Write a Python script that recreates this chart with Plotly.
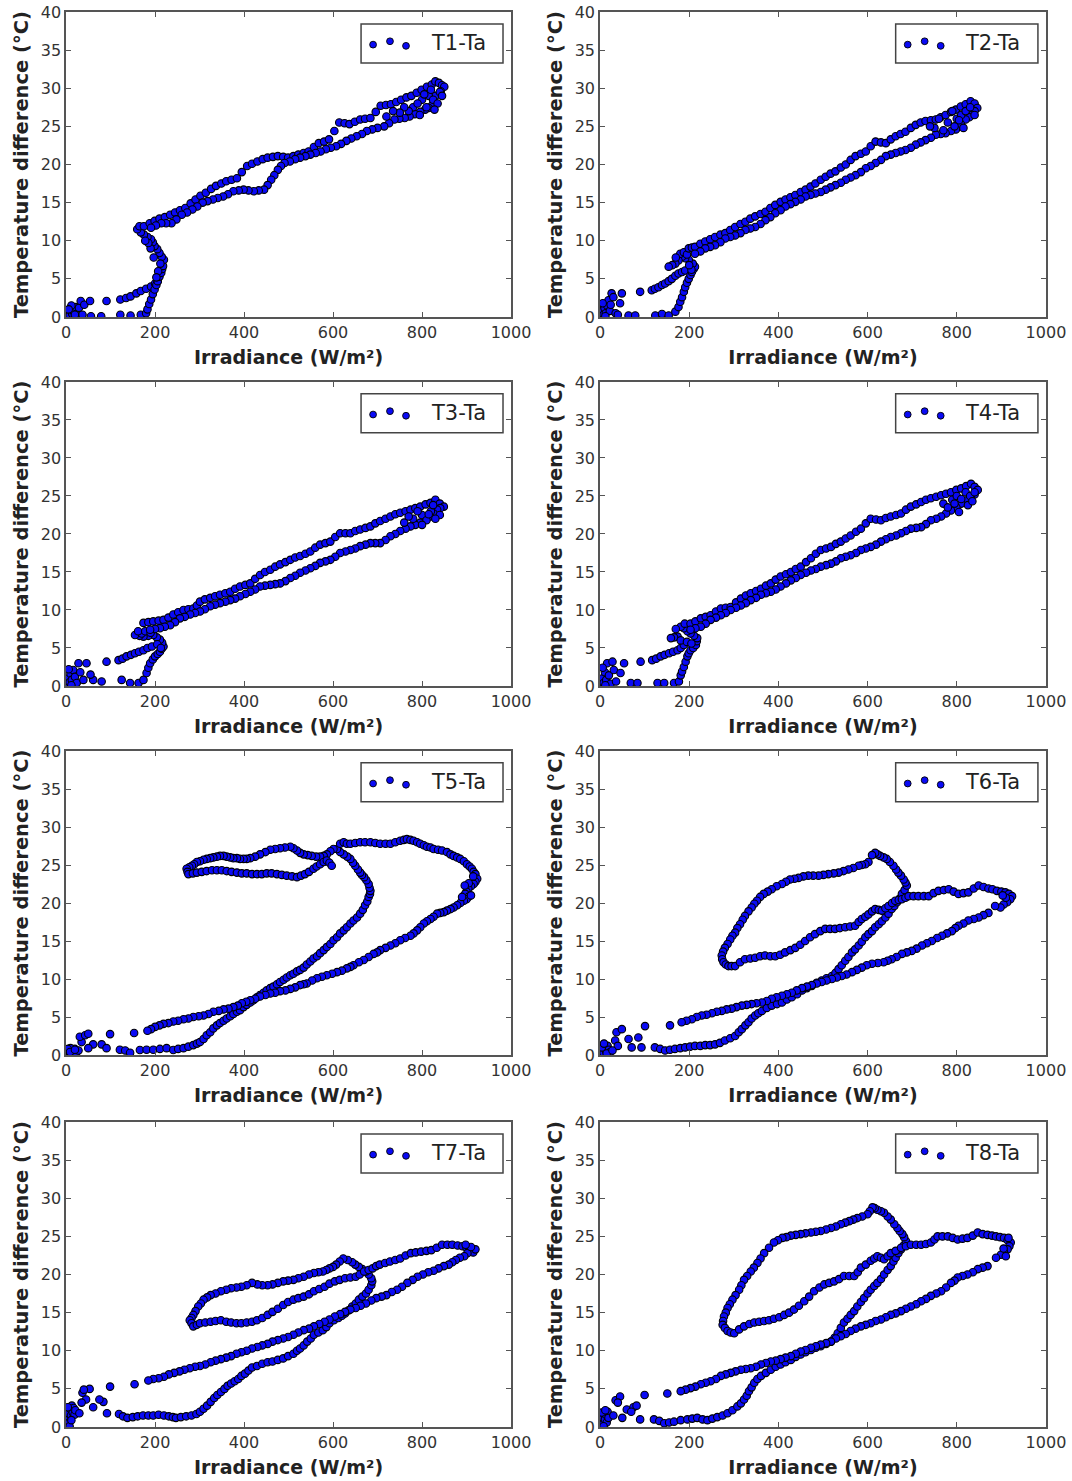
import plotly.graph_objects as go
from plotly.subplots import make_subplots

# ---------------- data (irradiance W/m2, temperature difference degC) ----------------
t1 = [
(2,0.1),(5,0.5),(8,0.2),(10,0.9),(14,0.4),(18,0.7),(22,1.3),(25,0.1),(29,1.2),(33,2.1),(37,0.3),(41,1.6),(12,1.5),(6,1.0),(20,0.3),
(56,0.1),(79,0.1),(54,2.1),(91,2.1),(122,0.3),(145,0.2),(168,0.3),(180,0.5),
(122,2.3),(135,2.5),(145,2.7),(158,3.1),(168,3.4),(180,3.7),(191,4.0),(200,4.4),(206,4.7),
(183,1.0),(187,1.7),(191,2.3),(195,3.0),(199,3.6),(203,4.2),(206,4.7),(210,5.3),(214,5.8),(216,6.3),(218,6.7),(220,7.5),(215,7.9),(210,8.4),(205,8.9),(199,9.3),(195,9.8),(191,10.2),(183,10.5),(175,10.8),(168,11.1),(160,11.5),(165,11.9),
(207,6.0),(212,7.0),(203,5.2),(197,7.8),(190,9.0),(185,9.7),(178,10.0),
(175,11.9),(188,12.3),(199,12.6),(210,12.9),(222,13.1),(234,13.4),(245,13.7),(256,14.0),(268,14.3),(280,14.9),(291,15.4),(302,15.9),(314,16.3),(326,16.8),(337,17.2),(349,17.5),(360,17.8),(372,18.0),(384,18.2),(395,19.0),(407,19.8),(418,20.1),(430,20.4),(442,20.7),(453,20.9),(465,21.0),(476,21.1),(488,21.0),(499,20.9),(511,21.1),(522,21.3),(534,21.5),(545,21.7),(557,22.3),(568,22.8),(580,23.0),(591,23.3),(603,24.4),(614,25.5),(626,25.4),(637,25.3),(649,25.6),(661,25.9),(672,26.0),(684,26.1),(696,26.9),(707,27.7),(719,27.8),(730,27.9),(742,28.2),(753,28.5),(765,28.8),(776,29.0),(788,29.4),(799,29.8),(811,30.2),(822,30.5),(830,30.9),(838,30.7),(845,30.4),(850,30.2),
(842,29.6),(830,29.0),(826,28.3),(822,27.7),(815,27.4),(807,27.2),(796,26.9),(784,26.6),(772,26.3),(761,26.1),(749,26.0),(738,25.9),(726,25.4),(715,25.0),(700,24.8),(688,24.6),(676,24.4),(665,24.0),(653,23.7),(641,23.4),(630,23.1),(618,22.7),(607,22.4),(595,22.2),(584,22.0),(572,21.7),(561,21.5),(549,21.3),(538,21.1),(526,20.9),(515,20.7),(503,20.4),(491,20.2),(483,19.8),(476,19.3),(468,18.6),(461,18.0),(453,17.3),(445,16.7),(433,16.6),(422,16.5),(410,16.6),(399,16.7),(388,16.6),(376,16.5),(364,16.1),(353,15.8),(341,15.6),(330,15.4),(318,15.2),(307,15.0),(295,14.5),(284,14.1),(272,13.7),(260,13.4),(248,12.8),(237,12.3),(225,12.3),(214,12.3),(202,12.0),(191,11.7),
(780,27.5),(800,28.5),(815,29.0),(790,28.0),(770,27.0),(825,28.5),(840,29.5),(810,27.5),(820,29.8),(760,27.5),(835,28.0),(805,29.2),(795,26.5),(828,27.2),(845,29.0),(750,26.8),(720,26.3),(735,27.0),
]

t2 = [
(2,0.2),(5,0.8),(8,0.3),(10,1.2),(13,0.5),(16,1.5),(19,2.2),(22,0.8),(26,3.1),(30,2.6),(6,1.8),(12,0.1),(24,1.6),(35,0.5),
(45,1.8),(49,3.1),(64,0.2),(79,0.2),(90,3.3),(124,0.2),(139,0.4),(154,0.2),(169,0.7),(40,0.3),
(116,3.5),(123,3.7),(131,3.9),(139,4.2),(146,4.4),(154,4.7),(161,5.0),(169,5.4),(176,5.7),(184,5.9),(191,6.1),
(176,1.3),(180,2.0),(184,2.6),(188,3.3),(191,3.9),(195,4.5),(199,5.0),(203,5.5),(206,5.9),(210,6.3),(213,6.6),(208,7.0),(199,7.5),(191,7.7),(184,7.9),(176,7.4),(169,7.0),(162,6.8),(154,6.6),(180,8.3),(188,8.5),(170,7.8),(195,8.2),(205,6.2),(200,6.8),
(199,9.0),(206,9.1),(213,9.2),(225,9.6),(236,9.9),(247,10.2),(258,10.5),(270,10.8),(281,11.0),(292,11.4),(303,11.8),(315,12.2),(326,12.5),(337,12.9),(348,13.2),(360,13.5),(371,13.8),(382,14.3),(393,14.7),(405,15.1),(416,15.4),(427,15.7),(438,16.0),(450,16.4),(461,16.7),(472,17.1),(483,17.5),(495,18.0),(506,18.4),(517,18.8),(528,19.1),(540,19.6),(551,20.0),(562,20.6),(573,21.1),(585,21.4),(596,21.7),(607,22.4),(618,23.0),(630,22.9),(641,22.8),(652,23.3),(663,23.7),(674,24.0),(685,24.3),(697,24.8),(708,25.2),(719,25.5),(730,25.7),(742,25.8),(753,25.9),(764,26.2),(775,26.5),(787,26.9),(798,27.2),(809,27.6),(820,27.9),(831,28.3),(840,28.0),(846,27.4),
(840,27.0),(835,26.5),(828,26.2),(820,25.9),(809,25.3),(798,24.6),(787,24.4),(775,24.1),(764,24.0),(753,23.9),(742,23.5),(730,23.2),(719,22.9),(708,22.6),(697,22.2),(685,21.9),(674,21.7),(663,21.5),(652,21.3),(641,21.1),(630,20.6),(618,20.2),(607,19.8),(596,19.5),(585,19.0),(573,18.6),(562,18.3),(551,18.0),(540,17.6),(528,17.3),(517,17.0),(506,16.7),(495,16.4),(483,16.2),(472,16.0),(461,15.8),(450,15.4),(438,15.1),(427,14.8),(416,14.5),(405,14.0),(393,13.6),(382,13.1),(371,12.7),(360,12.2),(348,11.8),(337,11.6),(326,11.4),(315,11.0),(303,10.7),(292,10.5),(281,10.3),(270,9.8),(258,9.4),(247,9.2),(236,9.0),(225,8.6),(213,8.3),
(760,26.0),(780,25.5),(800,26.0),(790,27.0),(810,26.5),(770,24.5),(820,27.0),(840,26.5),(815,24.8),(830,27.5),(805,25.8),(795,25.0),(750,24.8),(740,25.0),
]

t3 = [
(2,0.3),(5,1.0),(8,0.5),(10,1.6),(13,0.8),(16,2.1),(20,1.2),(24,0.4),(28,3.0),(6,2.2),(12,0.1),(32,1.8),
(39,0.8),(46,3.0),(61,0.8),(80,0.6),(91,3.2),(125,0.8),(144,0.4),(163,0.4),(174,0.8),(55,1.5),
(118,3.4),(127,3.6),(136,3.9),(146,4.1),(155,4.3),(164,4.5),(174,4.7),(183,5.0),(193,5.2),
(181,1.7),(185,2.4),(189,3.0),(195,3.5),(200,3.9),(206,4.2),(211,4.5),(215,4.9),(219,5.2),(216,5.7),(211,6.1),(204,6.4),(196,6.7),(185,6.6),(174,6.5),(165,6.6),(155,6.7),(170,6.9),(162,7.2),(178,7.2),(190,7.0),(205,5.5),(213,5.0),
(174,8.3),(185,8.4),(196,8.5),(208,8.6),(219,8.7),(230,9.0),(241,9.4),(252,9.7),(264,10.0),(275,10.1),(286,10.2),(294,10.6),(301,11.1),(312,11.4),(324,11.6),(335,11.8),(346,12.0),(358,12.2),(369,12.4),(380,12.8),(391,13.1),(403,13.3),(414,13.5),(425,14.1),(436,14.6),(447,15.0),(459,15.3),(470,15.7),(481,16.0),(493,16.3),(504,16.6),(515,16.9),(526,17.1),(538,17.4),(549,17.7),(560,18.2),(571,18.6),(583,18.8),(594,19.0),(605,19.6),(616,20.1),(628,20.1),(639,20.1),(650,20.4),(661,20.6),(673,20.8),(684,21.0),(695,21.4),(706,21.7),(718,22.0),(729,22.3),(740,22.6),(751,22.8),(763,23.0),(774,23.2),(785,23.4),(796,23.6),(808,23.9),(819,24.1),(830,24.5),(840,24.0),(849,23.6),
(841,23.4),(834,23.2),(826,22.7),(819,22.3),(808,21.9),(796,21.5),(785,21.2),(774,21.0),(763,20.7),(751,20.4),(740,20.0),(729,19.7),(718,19.2),(706,18.8),(695,18.8),(684,18.8),(673,18.6),(661,18.4),(650,18.1),(639,17.9),(628,17.7),(616,17.5),(605,17.0),(594,16.6),(583,16.4),(571,16.2),(560,15.8),(549,15.5),(538,15.2),(526,14.9),(515,14.5),(504,14.2),(493,13.8),(481,13.5),(470,13.4),(459,13.3),(447,13.2),(436,13.1),(425,12.7),(414,12.4),(403,12.1),(391,11.8),(380,11.5),(369,11.3),(358,11.1),(346,10.9),(335,10.7),(324,10.5),(312,10.1),(301,9.8),(290,9.6),(279,9.4),(267,9.1),(256,8.9),(245,8.4),(234,8.0),(222,7.8),(211,7.6),(200,7.5),(189,7.4),
(780,22.0),(800,22.5),(810,21.8),(790,23.0),(820,23.0),(840,22.5),(760,21.5),(830,22.0),(815,22.6),(800,21.2),(770,22.3),(825,23.8),
]

t4 = [
(2,0.3),(5,1.0),(8,0.4),(11,1.8),(14,0.8),(16,3.0),(20,1.4),(24,0.3),(28,3.2),(31,2.1),(6,2.4),(12,0.1),(36,0.6),
(46,1.7),(54,3.0),(69,0.4),(84,0.4),(91,3.2),(129,0.4),(144,0.4),(166,0.4),(177,0.6),
(117,3.4),(126,3.6),(136,3.9),(145,4.1),(155,4.3),(164,4.5),(174,4.7),(181,5.0),(188,5.4),
(181,1.4),(184,1.9),(188,2.5),(192,3.2),(196,3.9),(199,4.3),(203,4.7),(209,5.0),(215,5.4),(217,5.9),(218,6.3),(211,6.6),(203,6.9),(196,7.2),(188,7.6),(181,7.8),(174,6.5),(166,6.4),(159,6.3),(181,6.0),(195,5.8),(205,5.6),(190,8.2),(170,7.5),
(203,8.2),(214,8.5),(226,8.9),(237,9.1),(248,9.3),(260,9.8),(271,10.2),(282,10.3),(293,10.4),(305,11.0),(316,11.5),(327,11.9),(338,12.2),(350,12.5),(361,12.8),(372,13.2),(383,13.5),(394,14.0),(405,14.4),(417,14.7),(428,15.0),(439,15.4),(450,15.7),(462,16.3),(473,16.8),(484,17.4),(495,17.9),(507,18.1),(518,18.3),(529,18.7),(540,19.0),(551,19.4),(562,19.8),(574,20.3),(585,20.7),(596,21.4),(607,22.0),(619,21.9),(630,21.8),(641,22.1),(652,22.3),(664,22.5),(675,22.7),(686,23.2),(697,23.6),(709,23.9),(720,24.2),(731,24.5),(742,24.7),(754,24.9),(765,25.1),(776,25.3),(787,25.5),(799,25.8),(810,26.0),(821,26.3),(832,26.6),(840,26.2),(847,25.8),
(840,25.2),(832,24.7),(821,24.4),(810,24.0),(799,23.5),(787,23.1),(776,22.7),(765,22.3),(754,22.0),(742,21.8),(731,21.3),(720,20.9),(709,20.8),(697,20.7),(686,20.4),(675,20.1),(664,19.8),(652,19.6),(641,19.3),(630,19.0),(619,18.6),(607,18.3),(596,18.1),(585,17.9),(574,17.5),(562,17.2),(551,17.0),(540,16.8),(529,16.4),(518,16.1),(507,15.9),(495,15.7),(484,15.4),(473,15.2),(462,14.9),(450,14.6),(439,14.2),(428,13.9),(417,13.5),(405,13.1),(394,12.7),(383,12.4),(372,12.2),(361,12.0),(350,11.6),(338,11.3),(327,10.9),(316,10.6),(305,10.3),(293,10.0),(282,9.6),(271,9.3),(260,9.0),(248,8.7),(237,8.2),(226,7.8),(214,7.6),(203,7.4),
(770,24.0),(790,24.5),(800,25.0),(810,24.6),(820,25.5),(780,23.5),(830,25.0),(840,25.5),(825,23.8),(805,22.9),(795,24.0),(835,24.3),
]

t5 = [
(2,0.2),(5,0.5),(8,0.3),(12,0.6),(15,0.4),(20,0.8),(25,0.5),(10,0.9),(18,0.2),(4,0.8),(22,0.3),(28,0.6),
(9,0.4),(20,0.7),(35,1.7),(31,2.4),(43,2.6),(50,2.8),(61,1.4),(80,1.4),(91,0.9),(50,0.9),(99,2.75),(121,0.7),(133,0.6),(144,0.3),(153,2.9),
(166,0.65),(181,0.7),(196,0.7),(211,0.8),(226,0.9),(241,0.65),(252,0.8),(264,0.9),(275,1.1),(286,1.3),(294,1.5),(301,1.7),(309,2.1),(316,2.6),(324,3.0),(331,3.5),(339,3.9),(346,4.2),(354,4.5),(361,4.8),(369,5.1),(376,5.4),(384,5.7),(391,5.9),(399,6.3),(406,6.6),(414,6.9),(421,7.2),(429,7.6),(436,7.9),(444,8.2),(451,8.5),(459,8.8),(466,9.0),(474,9.3),(481,9.6),(489,9.9),(496,10.2),(504,10.5),(511,10.7),(519,11.0),(526,11.2),(534,11.5),(541,11.9),(549,12.3),(556,12.7),(564,13.0),(571,13.4),(579,13.8),(586,14.2),(594,14.6),(601,15.1),(609,15.5),(616,16.0),(624,16.4),(631,16.8),(639,17.3),(646,17.7),(654,18.1),(661,18.6),(667,19.1),(672,19.7),(677,20.2),(680,20.8),(683,21.2),(684,21.6),(682,22.0),(680,22.5),(675,23.0),(670,23.4),(665,23.7),(661,24.0),(656,24.4),(650,24.9),(645,25.3),(639,25.8),(632,26.1),(624,26.4),(616,26.7),(609,27.1),
(601,27.1),(594,26.8),(586,26.4),(579,26.2),(571,26.1),(562,26.1),(552,26.2),(543,26.3),(534,26.4),(526,26.6),(519,26.9),(511,27.2),(504,27.4),(492,27.3),(481,27.2),(470,27.1),(459,27.0),(448,26.7),(436,26.4),(425,26.1),(414,25.9),(406,25.8),(399,25.8),(391,25.8),(384,25.9),(376,25.9),(369,26.0),(361,26.1),(354,26.2),(346,26.2),(339,26.1),(331,26.0),(324,25.9),(316,25.8),(309,25.7),(301,25.5),(294,25.4),(288,25.1),(283,24.9),(277,24.7),(271,24.5),(273,24.1),
(275,23.8),(285,23.9),(294,24.0),(305,24.1),(316,24.2),(328,24.3),(339,24.3),(350,24.3),(361,24.2),(372,24.1),(384,24.0),(395,23.9),(406,23.9),(418,23.8),(429,23.8),(440,23.8),(451,23.9),(462,23.9),(474,23.8),(485,23.7),(496,23.6),(508,23.5),(519,23.4),(528,23.6),(537,23.8),(546,24.1),(556,24.5),(563,24.8),(571,25.1),(579,25.4),(586,25.6),(592,25.3),(597,24.9),
(616,27.8),(624,28.0),(631,27.8),(639,27.8),(650,27.9),(661,28.0),(672,28.0),(684,28.0),(695,27.9),(706,27.8),(718,27.8),(729,27.8),(740,28.0),(751,28.2),(759,28.3),(766,28.4),(774,28.3),(781,28.2),(789,28.0),(796,27.8),(804,27.6),(811,27.4),(819,27.3),(826,27.1),(836,27.0),(845,26.9),(856,26.7),(864,26.4),(871,26.2),(879,26.0),(886,25.8),(894,25.5),(901,25.1),(907,24.8),(912,24.5),(916,24.1),(920,23.8),(924,23.2),(920,22.8),(916,22.5),(910,22.2),(904,21.9),(900,21.5),(897,21.2),(904,20.8),(900,20.5),(894,20.3),(886,20.0),(879,19.7),(871,19.4),(864,19.2),(856,19.0),(849,18.8),(841,18.7),(834,18.6),(826,18.2),(819,17.9),(811,17.6),(804,17.3),(796,16.8),(789,16.4),(781,16.0),(774,15.7),(762,15.4),(751,15.1),(740,14.7),(729,14.4),(718,14.1),(706,13.8),(699,13.5),(691,13.3),(680,12.9),(669,12.5),(658,12.2),(646,11.8),(639,11.6),(631,11.4),(620,11.1),(609,10.9),(598,10.7),(586,10.5),(575,10.3),(564,10.1),(553,9.8),(541,9.4),(534,9.3),(526,9.2),(515,8.9),(504,8.7),(493,8.5),(481,8.4),(470,8.2),(459,8.1),(448,7.9),(436,7.7),(425,7.4),(414,7.2),(405,7.0),(395,6.8),(386,6.5),(376,6.3),(365,6.1),(354,6.0),(343,5.8),(331,5.7),(320,5.4),(309,5.2),(298,5.1),(286,5.0),(275,4.8),(264,4.7),(252,4.5),(241,4.4),(230,4.2),(219,4.1),(210,3.9),(200,3.7),(191,3.4),(183,3.2),
(905,22.6),(910,21.0),(896,22.3),(890,20.8),(915,23.5),
]

t6 = [
(2,0.2),(5,0.6),(8,0.3),(11,0.9),(14,0.5),(17,1.2),(20,0.7),(4,1.0),(23,0.4),(9,1.5),(15,0.2),
(34,1.9),(37,3.0),(49,3.4),(64,2.1),(71,1.0),(86,2.3),(93,1.0),(101,3.8),(40,1.2),(28,0.6),
(123,1.0),(135,0.8),(146,0.6),(157,0.7),(168,0.8),(180,0.9),(191,1.0),(202,1.1),(213,1.2),(225,1.2),(236,1.3),(247,1.3),(258,1.4),(269,1.6),(280,1.9),(292,2.2),(303,2.5),(311,3.0),(318,3.4),(326,3.9),(333,4.3),(340,4.8),(348,5.2),(355,5.5),(363,5.8),(374,6.2),(385,6.5),(397,6.7),(408,6.9),(419,7.3),(430,7.6),(442,8.0),(453,8.5),(464,8.8),(475,9.1),(486,9.5),(497,9.8),(508,10.1),(520,10.4),(528,10.8),(535,11.3),(542,11.8),(550,12.4),(557,12.9),(565,13.5),(572,13.9),(580,14.4),(587,14.9),(595,15.5),(602,15.9),(610,16.3),(617,16.8),(625,17.2),(632,17.6),(640,18.1),(647,18.6),(654,19.2),(660,19.6),(666,20.1),(672,20.6),(677,21.2),(683,21.7),(688,22.3),(685,22.7),(681,23.1),(675,23.6),(669,24.0),(664,24.4),(658,24.9),(650,25.4),(643,25.8),(636,26.0),(628,26.2),(622,26.4),(617,26.6),(610,26.3),
(602,25.4),(595,25.1),(587,25.0),(580,24.9),(568,24.6),(557,24.4),(546,24.2),(535,24.0),(524,23.9),(512,23.8),(501,23.7),(490,23.6),(478,23.6),(467,23.6),(456,23.5),(445,23.3),(436,23.2),(426,23.1),(417,22.8),(408,22.5),(396,22.2),(385,21.8),(376,21.5),(367,21.2),(359,20.8),(352,20.3),(346,19.9),(340,19.4),(333,18.9),(325,18.3),(320,17.8),(314,17.2),(308,16.7),(303,16.1),(297,15.7),(292,15.2),(286,14.6),(280,14.1),(276,13.6),(273,13.1),(274,12.6),(277,12.2),(282,11.9),(288,11.7),(295,11.7),(303,11.7),
(314,12.2),(325,12.6),(337,12.7),(348,12.8),(359,13.0),(370,13.1),(382,13.0),(393,13.0),(404,13.2),(415,13.5),(427,13.8),(438,14.1),(449,14.5),(460,15.0),(471,15.5),(482,15.9),(494,16.3),(505,16.6),(516,16.6),(527,16.6),(538,16.7),(550,16.8),(561,16.9),(572,17.0),(580,17.5),(587,17.9),(595,18.2),(602,18.5),(610,18.9),(617,19.2),(625,19.1),(632,19.0),(640,19.3),(647,19.6),(655,20.0),(662,20.3),(670,20.4),(677,20.5),
(685,20.7),(692,20.9),(703,20.9),(714,20.9),(726,20.9),(737,20.9),(748,21.3),(759,21.6),(771,21.7),(782,21.8),(793,21.5),(804,21.2),(815,21.3),(826,21.4),(838,21.9),(849,22.3),(860,22.1),(871,21.9),(880,21.8),(890,21.6),(900,21.5),(909,21.4),(917,21.2),(924,20.9),(920,20.5),(913,20.1),(905,19.8),(898,19.4),(886,19.6),(910,20.7),(903,21.0),
(871,18.7),(860,18.4),(849,18.1),(838,17.9),(826,17.7),(815,17.3),(804,17.0),(797,16.7),(789,16.3),(778,16.0),(767,15.7),(756,15.4),(744,15.0),(733,14.7),(722,14.4),(710,14.0),(699,13.7),(688,13.5),(677,13.3),(665,12.9),(654,12.6),(645,12.4),(636,12.2),(623,12.1),(610,12.0),(598,11.8),(587,11.5),(576,11.2),(565,10.9),(553,10.6),(542,10.4),(531,10.2),(520,10.0),(508,9.8),(497,9.6),(486,9.4),(475,9.2),(464,9.0),(453,8.8),(441,8.5),(430,8.2),(419,8.0),(408,7.8),(396,7.6),(385,7.4),(374,7.1),(363,6.9),(351,6.8),(340,6.7),(329,6.6),(318,6.5),(306,6.3),(295,6.1),(284,6.0),(273,5.8),(262,5.7),(251,5.5),(239,5.3),(228,5.2),(217,5.0),(206,4.7),(194,4.5),(183,4.3),(157,3.9),
]

t7 = [
(1,0.3),(3,1.0),(5,1.8),(7,0.6),(9,2.4),(11,1.5),(13,2.8),(15,1.9),(17,2.5),(4,2.6),(19,1.6),(8,0.1),(12,0.9),(21,2.2),
(30,1.8),(37,4.5),(45,3.6),(53,5.0),(61,2.6),(84,3.3),(92,1.8),(99,5.3),(40,4.9),(75,3.6),(35,3.2),
(119,1.7),(128,1.4),(138,1.2),(150,1.3),(161,1.4),(173,1.5),(185,1.5),(196,1.5),(208,1.6),(220,1.5),(231,1.4),(240,1.3),(247,1.2),(258,1.3),(270,1.4),(282,1.5),(293,1.7),(301,2.0),(309,2.4),(317,2.8),(325,3.3),(333,3.8),(340,4.2),(348,4.6),(356,5.0),(363,5.4),(371,5.7),(379,6.0),(387,6.3),(394,6.7),(402,7.0),(410,7.4),(418,7.8),(429,8.0),(441,8.3),(453,8.5),(464,8.6),(476,8.8),(488,9.0),(499,9.3),(511,9.6),(519,10.0),(526,10.3),(534,10.7),(542,11.2),(550,11.6),(557,12.1),(567,12.4),(577,12.7),(585,13.1),(592,13.6),(602,14.0),(612,14.3),(620,14.6),(627,14.9),(635,15.3),(643,15.8),(651,16.2),(658,16.7),(666,17.1),(674,17.5),(680,18.0),(686,18.6),(688,19.1),(686,19.5),(680,20.0),(674,20.4),(666,20.7),(658,21.0),(650,21.3),(643,21.6),(633,21.9),(623,22.1),(615,21.7),(607,21.3),
(600,21.0),(592,20.8),(585,20.6),(577,20.4),(567,20.3),(557,20.2),(546,20.0),(534,19.7),(522,19.5),(511,19.3),(499,19.2),(488,19.1),(476,18.9),(464,18.7),(453,18.6),(441,18.6),(430,18.7),(418,18.9),(406,18.6),(394,18.4),(383,18.3),(371,18.2),(360,18.0),(348,17.8),(336,17.5),(325,17.3),(317,17.0),(309,16.7),(303,16.2),(297,15.8),(291,15.2),(286,14.7),(282,14.3),(278,14.0),(282,13.6),(286,13.2),(294,13.4),(301,13.6),
(313,13.7),(325,13.8),(336,13.9),(348,14.0),(360,13.8),(371,13.7),(383,13.6),(394,13.6),(406,13.7),(418,13.8),(429,14.0),(441,14.3),(453,14.7),(464,15.1),(476,15.5),(488,16.0),(499,16.4),(511,16.7),(522,16.9),(534,17.1),(546,17.4),(557,17.8),(569,18.1),(581,18.4),(592,18.8),(604,19.1),(615,19.3),(627,19.5),(639,19.6),(651,19.7),(660,20.0),(670,20.4),(680,20.6),
(689,20.8),(697,21.1),(705,21.3),(717,21.5),(728,21.7),(740,21.9),(751,22.1),(763,22.5),(775,22.8),(786,22.9),(798,23.0),(810,23.1),(821,23.2),(833,23.5),(845,23.9),(857,23.9),(868,23.9),(880,23.8),(891,23.7),(900,23.5),(907,23.2),(915,22.9),(920,23.3),(902,22.8),(895,22.4),(885,22.2),(876,21.9),(910,23.6),(898,23.9),
(868,21.6),(860,21.3),(849,21.1),(837,20.8),(826,20.5),(814,20.3),(802,20.0),(790,19.7),(779,19.3),(767,18.9),(755,18.4),(744,18.0),(732,17.7),(720,17.3),(709,17.1),(697,16.9),(686,16.6),(674,16.2),(662,15.9),(651,15.6),(639,15.4),(627,15.1),(616,14.8),(604,14.5),(592,14.1),(581,13.8),(569,13.5),(557,13.2),(546,12.9),(534,12.7),(522,12.4),(511,12.1),(499,11.8),(488,11.6),(476,11.4),(464,11.2),(453,10.9),(441,10.7),(430,10.5),(418,10.3),(406,10.0),(394,9.8),(383,9.6),(371,9.3),(360,9.1),(348,8.9),(336,8.7),(325,8.5),(313,8.2),(301,8.0),(290,7.9),(278,7.7),(266,7.5),(255,7.3),(243,7.1),(231,6.9),(220,6.6),(208,6.4),(196,6.3),(185,6.1),(154,5.6),
]

t8 = [
(1,0.2),(3,0.7),(5,1.3),(7,0.4),(9,1.8),(11,1.0),(13,1.6),(15,0.6),(17,2.0),(4,1.9),(19,1.2),(8,0.1),(12,2.2),
(30,1.5),(35,3.5),(45,4.0),(40,3.2),(60,2.3),(75,2.6),(82,2.8),(90,1.0),(100,4.2),(70,2.0),(50,1.2),
(121,1.0),(133,0.8),(144,0.5),(155,0.6),(166,0.7),(181,0.9),(196,1.0),(207,1.1),(218,1.2),(230,1.0),(241,0.9),(252,1.1),(263,1.3),(275,1.5),(286,1.8),(297,2.2),(308,2.7),(316,3.1),(323,3.6),(329,4.1),(334,4.7),(340,5.2),(346,5.8),(353,6.3),(361,6.7),(372,7.1),(383,7.5),(394,7.9),(405,8.2),(416,8.5),(428,8.8),(439,9.2),(450,9.5),(461,9.8),(473,10.1),(484,10.4),(495,10.6),(507,10.9),(518,11.2),(526,11.7),(533,12.3),(540,13.0),(547,13.7),(555,14.2),(562,14.7),(570,15.2),(577,15.8),(585,16.4),(592,16.9),(600,17.5),(607,18.0),(615,18.5),(622,18.9),(630,19.4),(637,20.0),(645,20.6),(652,21.1),(658,21.7),(663,22.2),(669,22.8),(675,23.3),(681,23.8),(686,24.4),(682,24.9),(678,25.3),(672,25.7),(667,26.1),(660,26.6),(652,27.2),(645,27.6),(637,28.1),(630,28.3),(622,28.5),(616,28.7),(611,28.8),(605,28.3),(600,27.9),
(588,27.6),(577,27.4),(568,27.2),(559,27.0),(550,26.8),(540,26.6),(529,26.3),(518,26.1),(507,25.9),(495,25.7),(484,25.6),(473,25.5),(461,25.4),(450,25.3),(439,25.2),(428,25.1),(418,24.9),(409,24.8),(399,24.5),(390,24.2),(379,23.5),(368,22.8),(360,22.1),(353,21.5),(345,20.9),(338,20.4),(330,19.8),(323,19.3),(317,18.6),(312,18.0),(304,17.3),(297,16.7),(291,16.1),(286,15.6),(282,15.0),(278,14.5),(276,13.9),(275,13.4),(280,13.0),(286,12.6),(293,12.4),(301,12.3),
(312,12.8),(323,13.2),(335,13.5),(346,13.7),(357,13.8),(368,13.9),(379,14.0),(390,14.2),(402,14.4),(413,14.7),(424,15.0),(435,15.4),(446,15.9),(458,16.5),(469,17.1),(480,17.8),(492,18.3),(503,18.7),(514,18.9),(525,19.1),(536,19.4),(547,19.8),(559,19.8),(570,19.8),(578,20.3),(585,20.9),(596,21.3),(607,21.8),(615,22.1),(622,22.4),(630,22.2),(637,22.0),(645,22.4),(652,22.8),(663,23.1),(675,23.5),(686,23.7),
(697,23.9),(709,23.9),(720,23.9),(731,24.0),(742,24.2),(750,24.6),(757,25.0),(768,25.0),(780,25.0),(791,24.8),(802,24.6),(813,24.7),(824,24.8),(836,25.1),(847,25.5),(858,25.3),(869,25.2),(879,25.1),(888,25.0),(897,24.9),(906,24.8),(914,24.5),(921,24.2),(918,23.7),(914,23.3),(906,22.9),(899,22.6),(888,22.2),(910,22.4),(905,23.4),(916,24.8),
(869,21.1),(858,20.9),(847,20.7),(836,20.3),(824,20.0),(813,19.8),(802,19.6),(795,19.2),(787,18.9),(776,18.3),(765,17.8),(754,17.5),(742,17.2),(731,16.8),(720,16.5),(709,16.1),(697,15.8),(686,15.5),(675,15.2),(663,14.9),(652,14.7),(641,14.4),(630,14.1),(618,13.9),(607,13.6),(596,13.4),(585,13.2),(573,12.9),(562,12.6),(551,12.2),(540,11.9),(529,11.6),(518,11.2),(507,11.0),(495,10.8),(484,10.6),(473,10.4),(461,10.1),(450,9.9),(439,9.6),(428,9.3),(416,9.1),(405,8.9),(394,8.7),(383,8.6),(372,8.4),(361,8.2),(350,7.9),(338,7.7),(327,7.6),(316,7.5),(304,7.3),(293,7.1),(282,6.9),(271,6.7),(260,6.3),(248,6.0),(237,5.8),(226,5.6),(214,5.3),(203,5.1),(192,4.9),(181,4.7),(151,4.4),
]

series_names = ["T1-Ta", "T2-Ta", "T3-Ta", "T4-Ta", "T5-Ta", "T6-Ta", "T7-Ta", "T8-Ta"]
panels = [t1, t2, t3, t4, t5, t6, t7, t8]
x_ticks = [0, 200, 400, 600, 800, 1000]
y_ticks = [0, 5, 10, 15, 20, 25, 30, 35, 40]
x_title = "Irradiance (W/m²)"
y_title = "Temperature difference (°C)"

# ---------------- figure ----------------
FONT = "DejaVu Sans"
MARK = "#0a0af5"
col_dom = [[0.0616, 0.4767], [0.5597, 0.9757]]
row_dom = [[0.78596, 0.99190], [0.53680, 0.74207], [0.28764, 0.49291], [0.03646, 0.24240]]
PW, PH = 445.0, 305.0  # panel size in px

fig = make_subplots(rows=4, cols=2)
shapes = []
annos = []
for i, (pts, name) in enumerate(zip(panels, series_names)):
    r, c = i // 2 + 1, i % 2 + 1
    xs = [p[0] for p in pts]
    ys = [p[1] for p in pts]
    fig.add_trace(go.Scatter(x=xs, y=ys, mode="markers", name=name, showlegend=False,
                             marker=dict(size=7.5, color=MARK, line=dict(color="#000000", width=1.1))),
                  row=r, col=c)
    sfx = "" if i == 0 else str(i + 1)
    axstyle = dict(showline=True, linecolor="#555555", linewidth=1.5, mirror="ticks",
                   ticks="inside", ticklen=5, tickwidth=1, tickcolor="#555555",
                   showgrid=False, zeroline=False, automargin=False,
                   tickfont=dict(family=FONT, size=16, color="#333333"))
    fig.layout["xaxis" + sfx].update(domain=col_dom[c - 1], range=[0, 1000], tickvals=x_ticks,
                                      title=dict(text=x_title, standoff=10,
                                                 font=dict(family=FONT, size=19, color="#222222", weight="bold")),
                                      **axstyle)
    fig.layout["yaxis" + sfx].update(domain=row_dom[r - 1], range=[0, 40], tickvals=y_ticks,
                                      title=dict(text=y_title, standoff=7,
                                                 font=dict(family=FONT, size=19.5, color="#222222", weight="bold")),
                                      **axstyle)
    xr, yr = "x" + sfx + " domain", "y" + sfx + " domain"
    # legend box
    shapes.append(dict(type="rect", xref=xr, yref=yr, x0=0.663, x1=0.982, y0=0.833, y1=0.961,
                       line=dict(color="#444444", width=1.5), fillcolor="white", layer="above"))
    rx, ry = 3.4 / PW, 3.4 / PH
    for cx, cy in [(0.690, 0.893), (0.728, 0.904), (0.764, 0.889)]:
        shapes.append(dict(type="circle", xref=xr, yref=yr, x0=cx - rx, x1=cx + rx, y0=cy - ry, y1=cy + ry,
                           fillcolor=MARK, line=dict(color="#000000", width=0.9), layer="above"))
    annos.append(dict(text=name, xref=xr, yref=yr, x=0.815, y=0.897, xanchor="left", yanchor="middle",
                      showarrow=False, font=dict(family=FONT, size=21, color="#222222")))

fig.update_layout(width=1072, height=1481, margin=dict(l=0, r=0, t=0, b=0),
                  paper_bgcolor="white", plot_bgcolor="white", shapes=shapes, annotations=annos,
                  font=dict(family=FONT))
# remove the browser's default 8px body margin so the figure fills the window exactly
fig.write_html("out.html", config={"displayModeBar": False},
               post_script="document.body.style.margin='0px';document.body.style.overflow='hidden';")
